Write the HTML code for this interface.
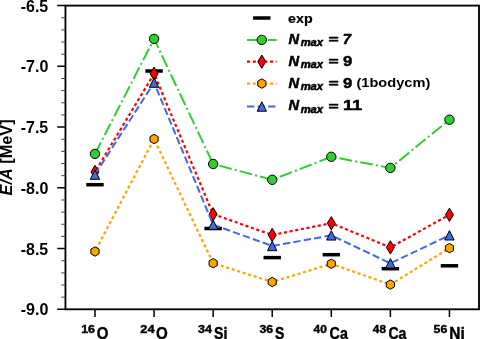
<!DOCTYPE html>
<html><head><meta charset="utf-8"><style>
html,body{margin:0;padding:0;background:#fff;width:480px;height:339px;overflow:hidden}
svg{display:block;will-change:transform;font-family:"Liberation Sans",sans-serif}
</style></head><body>
<svg width="480" height="339" viewBox="0 0 480 339">
<rect width="480" height="339" fill="#fff"/>
<rect x="86.29" y="182.95" width="17.4" height="3.5" fill="#000"/>
<rect x="145.37" y="69.25" width="17.4" height="3.5" fill="#000"/>
<rect x="204.45" y="226.75" width="17.4" height="3.5" fill="#000"/>
<rect x="263.53" y="255.85" width="17.4" height="3.5" fill="#000"/>
<rect x="322.6" y="252.95" width="17.4" height="3.5" fill="#000"/>
<rect x="381.68" y="266.95" width="17.4" height="3.5" fill="#000"/>
<rect x="440.76" y="264.05" width="17.4" height="3.5" fill="#000"/>
<polyline points="94.99,153.9 154.07,38.9 213.15,164 272.23,179.8 331.3,156.8 390.38,167.9 449.46,119.7" fill="none" stroke="#32cd32" stroke-width="2" stroke-dasharray="12.73 3.18 1.99 3.18" stroke-linejoin="round"/>
<circle cx="94.99" cy="153.9" r="4.7" fill="#32cd32" stroke="#000" stroke-width="1"/>
<circle cx="154.07" cy="38.9" r="4.7" fill="#32cd32" stroke="#000" stroke-width="1"/>
<circle cx="213.15" cy="164" r="4.7" fill="#32cd32" stroke="#000" stroke-width="1"/>
<circle cx="272.23" cy="179.8" r="4.7" fill="#32cd32" stroke="#000" stroke-width="1"/>
<circle cx="331.3" cy="156.8" r="4.7" fill="#32cd32" stroke="#000" stroke-width="1"/>
<circle cx="390.38" cy="167.9" r="4.7" fill="#32cd32" stroke="#000" stroke-width="1"/>
<circle cx="449.46" cy="119.7" r="4.7" fill="#32cd32" stroke="#000" stroke-width="1"/>
<polyline points="94.99,172 154.07,73.7 213.15,214.2 272.23,235 331.3,223.2 390.38,247.4 449.46,214.8" fill="none" stroke="#ff0000" stroke-width="2.2" stroke-dasharray="3.1 2.65" stroke-dashoffset="-2.4" stroke-linejoin="round"/>
<path d="M94.99 165.35L98.98 172L94.99 178.65L91 172Z" fill="#ff0000" stroke="#000" stroke-width="1"/>
<path d="M154.07 67.05L158.06 73.7L154.07 80.35L150.08 73.7Z" fill="#ff0000" stroke="#000" stroke-width="1"/>
<path d="M213.15 207.55L217.13 214.2L213.15 220.85L209.16 214.2Z" fill="#ff0000" stroke="#000" stroke-width="1"/>
<path d="M272.23 228.35L276.21 235L272.23 241.65L268.24 235Z" fill="#ff0000" stroke="#000" stroke-width="1"/>
<path d="M331.3 216.55L335.29 223.2L331.3 229.85L327.32 223.2Z" fill="#ff0000" stroke="#000" stroke-width="1"/>
<path d="M390.38 240.75L394.37 247.4L390.38 254.05L386.39 247.4Z" fill="#ff0000" stroke="#000" stroke-width="1"/>
<path d="M449.46 208.15L453.45 214.8L449.46 221.45L445.47 214.8Z" fill="#ff0000" stroke="#000" stroke-width="1"/>
<polyline points="94.99,251.5 154.07,139 213.15,263.2 272.23,282 331.3,263.8 390.38,284.6 449.46,248.1" fill="none" stroke="#ffa500" stroke-width="2.2" stroke-dasharray="3.1 2.65" stroke-dashoffset="-2.3" stroke-linejoin="round"/>
<polygon points="94.99,246.8 90.92,249.15 90.92,253.85 94.99,256.2 99.06,253.85 99.06,249.15" fill="#ffa500" stroke="#000" stroke-width="1"/>
<polygon points="154.07,134.3 150,136.65 150,141.35 154.07,143.7 158.14,141.35 158.14,136.65" fill="#ffa500" stroke="#000" stroke-width="1"/>
<polygon points="213.15,258.5 209.08,260.85 209.08,265.55 213.15,267.9 217.22,265.55 217.22,260.85" fill="#ffa500" stroke="#000" stroke-width="1"/>
<polygon points="272.23,277.3 268.15,279.65 268.15,284.35 272.23,286.7 276.3,284.35 276.3,279.65" fill="#ffa500" stroke="#000" stroke-width="1"/>
<polygon points="331.3,259.1 327.23,261.45 327.23,266.15 331.3,268.5 335.37,266.15 335.37,261.45" fill="#ffa500" stroke="#000" stroke-width="1"/>
<polygon points="390.38,279.9 386.31,282.25 386.31,286.95 390.38,289.3 394.45,286.95 394.45,282.25" fill="#ffa500" stroke="#000" stroke-width="1"/>
<polygon points="449.46,243.4 445.39,245.75 445.39,250.45 449.46,252.8 453.53,250.45 453.53,245.75" fill="#ffa500" stroke="#000" stroke-width="1"/>
<polyline points="94.99,174.6 154.07,82.6 213.15,224.7 272.23,246 331.3,235.35 390.38,263.3 449.46,235.3" fill="none" stroke="#4169e1" stroke-width="2" stroke-dasharray="7.35 3.18" stroke-linejoin="round"/>
<polygon points="94.99,169.9 90.29,179.3 99.69,179.3" fill="#4169e1" stroke="#000" stroke-width="1"/>
<polygon points="154.07,77.9 149.37,87.3 158.77,87.3" fill="#4169e1" stroke="#000" stroke-width="1"/>
<polygon points="213.15,220 208.45,229.4 217.85,229.4" fill="#4169e1" stroke="#000" stroke-width="1"/>
<polygon points="272.23,241.3 267.53,250.7 276.93,250.7" fill="#4169e1" stroke="#000" stroke-width="1"/>
<polygon points="331.3,230.65 326.6,240.05 336,240.05" fill="#4169e1" stroke="#000" stroke-width="1"/>
<polygon points="390.38,258.6 385.68,268 395.08,268" fill="#4169e1" stroke="#000" stroke-width="1"/>
<polygon points="449.46,230.6 444.76,240 454.16,240" fill="#4169e1" stroke="#000" stroke-width="1"/>
<rect x="65.45" y="5.6" width="413.55" height="303.7" fill="none" stroke="#000" stroke-width="1.85"/>
<path d="M57.25 5.6H65.45M57.25 66.34H65.45M57.25 127.08H65.45M57.25 187.82H65.45M57.25 248.56H65.45M57.25 309.3H65.45M94.99 309.3V317.1M154.07 309.3V317.1M213.15 309.3V317.1M272.23 309.3V317.1M331.3 309.3V317.1M390.38 309.3V317.1M449.46 309.3V317.1" stroke="#000" stroke-width="1.5" fill="none"/>
<path d="M61.25 17.75H65.45M61.25 29.9H65.45M61.25 42.04H65.45M61.25 54.19H65.45M61.25 78.49H65.45M61.25 90.64H65.45M61.25 102.78H65.45M61.25 114.93H65.45M61.25 139.23H65.45M61.25 151.38H65.45M61.25 163.52H65.45M61.25 175.67H65.45M61.25 199.97H65.45M61.25 212.12H65.45M61.25 224.26H65.45M61.25 236.41H65.45M61.25 260.71H65.45M61.25 272.86H65.45M61.25 285H65.45M61.25 297.15H65.45" stroke="#444" stroke-width="1.0" fill="none"/>
<text x="20.78" y="11.6" font-family="Liberation Sans, sans-serif" font-weight="bold" font-size="15.6" textLength="27.47" lengthAdjust="spacingAndGlyphs">-6.5</text>
<text x="20.77" y="72.34" font-family="Liberation Sans, sans-serif" font-weight="bold" font-size="15.6" textLength="27.69" lengthAdjust="spacingAndGlyphs">-7.0</text>
<text x="20.78" y="133.08" font-family="Liberation Sans, sans-serif" font-weight="bold" font-size="15.6" textLength="27.47" lengthAdjust="spacingAndGlyphs">-7.5</text>
<text x="20.77" y="193.82" font-family="Liberation Sans, sans-serif" font-weight="bold" font-size="15.6" textLength="27.69" lengthAdjust="spacingAndGlyphs">-8.0</text>
<text x="20.78" y="254.56" font-family="Liberation Sans, sans-serif" font-weight="bold" font-size="15.6" textLength="27.47" lengthAdjust="spacingAndGlyphs">-8.5</text>
<text x="20.77" y="315.3" font-family="Liberation Sans, sans-serif" font-weight="bold" font-size="15.6" textLength="27.69" lengthAdjust="spacingAndGlyphs">-9.0</text>
<text transform="translate(11.85 157.45) rotate(-90)" font-family="Liberation Sans, sans-serif" font-weight="bold" font-size="16.3" text-anchor="middle"><tspan font-style="italic">E/A</tspan> [MeV]</text>
<text x="81.22" y="332.95" font-family="Liberation Sans, sans-serif" font-weight="bold" font-size="10.75" textLength="13.72" lengthAdjust="spacingAndGlyphs" stroke="#000" stroke-width="0.4" stroke-linejoin="round">16</text>
<text x="96.79" y="339" font-family="Liberation Sans, sans-serif" font-weight="bold" font-size="16.3" textLength="11.64" lengthAdjust="spacingAndGlyphs" stroke="#000" stroke-width="0.4" stroke-linejoin="round">O</text>
<text x="140.25" y="332.95" font-family="Liberation Sans, sans-serif" font-weight="bold" font-size="10.75" textLength="14.32" lengthAdjust="spacingAndGlyphs" stroke="#000" stroke-width="0.4" stroke-linejoin="round">24</text>
<text x="155.88" y="339" font-family="Liberation Sans, sans-serif" font-weight="bold" font-size="16.3" textLength="11.75" lengthAdjust="spacingAndGlyphs" stroke="#000" stroke-width="0.4" stroke-linejoin="round">O</text>
<text x="198.01" y="332.95" font-family="Liberation Sans, sans-serif" font-weight="bold" font-size="10.75" textLength="13.96" lengthAdjust="spacingAndGlyphs" stroke="#000" stroke-width="0.4" stroke-linejoin="round">34</text>
<text x="214.09" y="339" font-family="Liberation Sans, sans-serif" font-weight="bold" font-size="16.3" textLength="13.41" lengthAdjust="spacingAndGlyphs" stroke="#000" stroke-width="0.4" stroke-linejoin="round">Si</text>
<text x="259.42" y="332.95" font-family="Liberation Sans, sans-serif" font-weight="bold" font-size="10.75" textLength="13.62" lengthAdjust="spacingAndGlyphs" stroke="#000" stroke-width="0.4" stroke-linejoin="round">36</text>
<text x="275.1" y="339" font-family="Liberation Sans, sans-serif" font-weight="bold" font-size="16.3" textLength="9.35" lengthAdjust="spacingAndGlyphs" stroke="#000" stroke-width="0.4" stroke-linejoin="round">S</text>
<text x="313.62" y="332.95" font-family="Liberation Sans, sans-serif" font-weight="bold" font-size="10.75" textLength="13.27" lengthAdjust="spacingAndGlyphs" stroke="#000" stroke-width="0.4" stroke-linejoin="round">40</text>
<text x="329.62" y="339" font-family="Liberation Sans, sans-serif" font-weight="bold" font-size="16.3" textLength="18.19" lengthAdjust="spacingAndGlyphs" stroke="#000" stroke-width="0.4" stroke-linejoin="round">Ca</text>
<text x="372.82" y="332.95" font-family="Liberation Sans, sans-serif" font-weight="bold" font-size="10.75" textLength="13.14" lengthAdjust="spacingAndGlyphs" stroke="#000" stroke-width="0.4" stroke-linejoin="round">48</text>
<text x="388.42" y="339" font-family="Liberation Sans, sans-serif" font-weight="bold" font-size="16.3" textLength="17.99" lengthAdjust="spacingAndGlyphs" stroke="#000" stroke-width="0.4" stroke-linejoin="round">Ca</text>
<text x="433.62" y="332.95" font-family="Liberation Sans, sans-serif" font-weight="bold" font-size="10.75" textLength="13.73" lengthAdjust="spacingAndGlyphs" stroke="#000" stroke-width="0.4" stroke-linejoin="round">56</text>
<text x="449.27" y="339" font-family="Liberation Sans, sans-serif" font-weight="bold" font-size="16.3" textLength="15.42" lengthAdjust="spacingAndGlyphs" stroke="#000" stroke-width="0.4" stroke-linejoin="round">Ni</text>
<rect x="253.1" y="16.25" width="17.4" height="3.5" fill="#000"/>
<path d="M247 39.9H276.6" stroke="#32cd32" stroke-width="2" stroke-dasharray="12.73 3.18 1.99 3.18" fill="none"/>
<circle cx="261.8" cy="39.9" r="4.7" fill="#32cd32" stroke="#000" stroke-width="1"/>
<path d="M247 61.65H276.6" stroke="#ff0000" stroke-width="2.2" stroke-dasharray="3.1 2.65" fill="none"/>
<path d="M261.8 55L265.79 61.65L261.8 68.3L257.81 61.65Z" fill="#ff0000" stroke="#000" stroke-width="1"/>
<path d="M247 83.55H276.6" stroke="#ffa500" stroke-width="2.2" stroke-dasharray="3.1 2.65" fill="none"/>
<polygon points="261.8,78.85 257.73,81.2 257.73,85.9 261.8,88.25 265.87,85.9 265.87,81.2" fill="#ffa500" stroke="#000" stroke-width="1"/>
<path d="M247 106.5H276.6" stroke="#4169e1" stroke-width="2" stroke-dasharray="7.35 3.18" fill="none"/>
<polygon points="261.8,101.8 257.1,111.2 266.5,111.2" fill="#4169e1" stroke="#000" stroke-width="1"/>
<text x="288.14" y="23.3" font-family="Liberation Sans, sans-serif" font-weight="bold" font-size="12.9" textLength="24.59" lengthAdjust="spacingAndGlyphs" stroke="#000" stroke-width="0.2" stroke-linejoin="round">exp</text>
<text x="288.49" y="43.55" font-family="Liberation Sans, sans-serif" font-weight="bold" font-size="14.2" font-style="italic" textLength="10.61" lengthAdjust="spacingAndGlyphs" stroke="#000" stroke-width="0.5" stroke-linejoin="round">N</text>
<text x="300.66" y="46.2" font-family="Liberation Sans, sans-serif" font-weight="bold" font-size="10" font-style="italic" textLength="22.41" lengthAdjust="spacingAndGlyphs" stroke="#000" stroke-width="0.5" stroke-linejoin="round">max</text>
<text x="328.53" y="43.3" font-family="Liberation Sans, sans-serif" font-weight="bold" font-size="11.5" textLength="10.13" lengthAdjust="spacingAndGlyphs" stroke="#000" stroke-width="0.5" stroke-linejoin="round">=</text>
<text x="342.81" y="43.55" font-family="Liberation Sans, sans-serif" font-weight="bold" font-size="14.7" font-style="italic" textLength="8.26" lengthAdjust="spacingAndGlyphs" stroke="#000" stroke-width="0.5" stroke-linejoin="round">7</text>
<text x="288.49" y="65.55" font-family="Liberation Sans, sans-serif" font-weight="bold" font-size="14.2" font-style="italic" textLength="10.61" lengthAdjust="spacingAndGlyphs" stroke="#000" stroke-width="0.5" stroke-linejoin="round">N</text>
<text x="300.66" y="68.2" font-family="Liberation Sans, sans-serif" font-weight="bold" font-size="10" font-style="italic" textLength="22.41" lengthAdjust="spacingAndGlyphs" stroke="#000" stroke-width="0.5" stroke-linejoin="round">max</text>
<text x="328.53" y="65.3" font-family="Liberation Sans, sans-serif" font-weight="bold" font-size="11.5" textLength="10.13" lengthAdjust="spacingAndGlyphs" stroke="#000" stroke-width="0.5" stroke-linejoin="round">=</text>
<text x="342.97" y="65.55" font-family="Liberation Sans, sans-serif" font-weight="bold" font-size="14.7" textLength="9.3" lengthAdjust="spacingAndGlyphs" stroke="#000" stroke-width="0.5" stroke-linejoin="round">9</text>
<text x="288.49" y="87.55" font-family="Liberation Sans, sans-serif" font-weight="bold" font-size="14.2" font-style="italic" textLength="10.61" lengthAdjust="spacingAndGlyphs" stroke="#000" stroke-width="0.5" stroke-linejoin="round">N</text>
<text x="300.66" y="90.2" font-family="Liberation Sans, sans-serif" font-weight="bold" font-size="10" font-style="italic" textLength="22.41" lengthAdjust="spacingAndGlyphs" stroke="#000" stroke-width="0.5" stroke-linejoin="round">max</text>
<text x="328.53" y="87.3" font-family="Liberation Sans, sans-serif" font-weight="bold" font-size="11.5" textLength="10.13" lengthAdjust="spacingAndGlyphs" stroke="#000" stroke-width="0.5" stroke-linejoin="round">=</text>
<text x="342.97" y="87.55" font-family="Liberation Sans, sans-serif" font-weight="bold" font-size="14.7" textLength="9.3" lengthAdjust="spacingAndGlyphs" stroke="#000" stroke-width="0.5" stroke-linejoin="round">9</text>
<text x="356.47" y="87.1" font-family="Liberation Sans, sans-serif" font-weight="bold" font-size="12.9" textLength="73.85" lengthAdjust="spacingAndGlyphs">(1bodycm)</text>
<text x="288.49" y="109.95" font-family="Liberation Sans, sans-serif" font-weight="bold" font-size="14.2" font-style="italic" textLength="10.61" lengthAdjust="spacingAndGlyphs" stroke="#000" stroke-width="0.5" stroke-linejoin="round">N</text>
<text x="300.66" y="112.6" font-family="Liberation Sans, sans-serif" font-weight="bold" font-size="10" font-style="italic" textLength="22.41" lengthAdjust="spacingAndGlyphs" stroke="#000" stroke-width="0.5" stroke-linejoin="round">max</text>
<text x="328.53" y="109.7" font-family="Liberation Sans, sans-serif" font-weight="bold" font-size="11.5" textLength="10.13" lengthAdjust="spacingAndGlyphs" stroke="#000" stroke-width="0.5" stroke-linejoin="round">=</text>
<text x="342.96" y="109.95" font-family="Liberation Sans, sans-serif" font-weight="bold" font-size="14.7" textLength="19.16" lengthAdjust="spacingAndGlyphs" stroke="#000" stroke-width="0.5" stroke-linejoin="round">11</text>
</svg>
</body></html>
